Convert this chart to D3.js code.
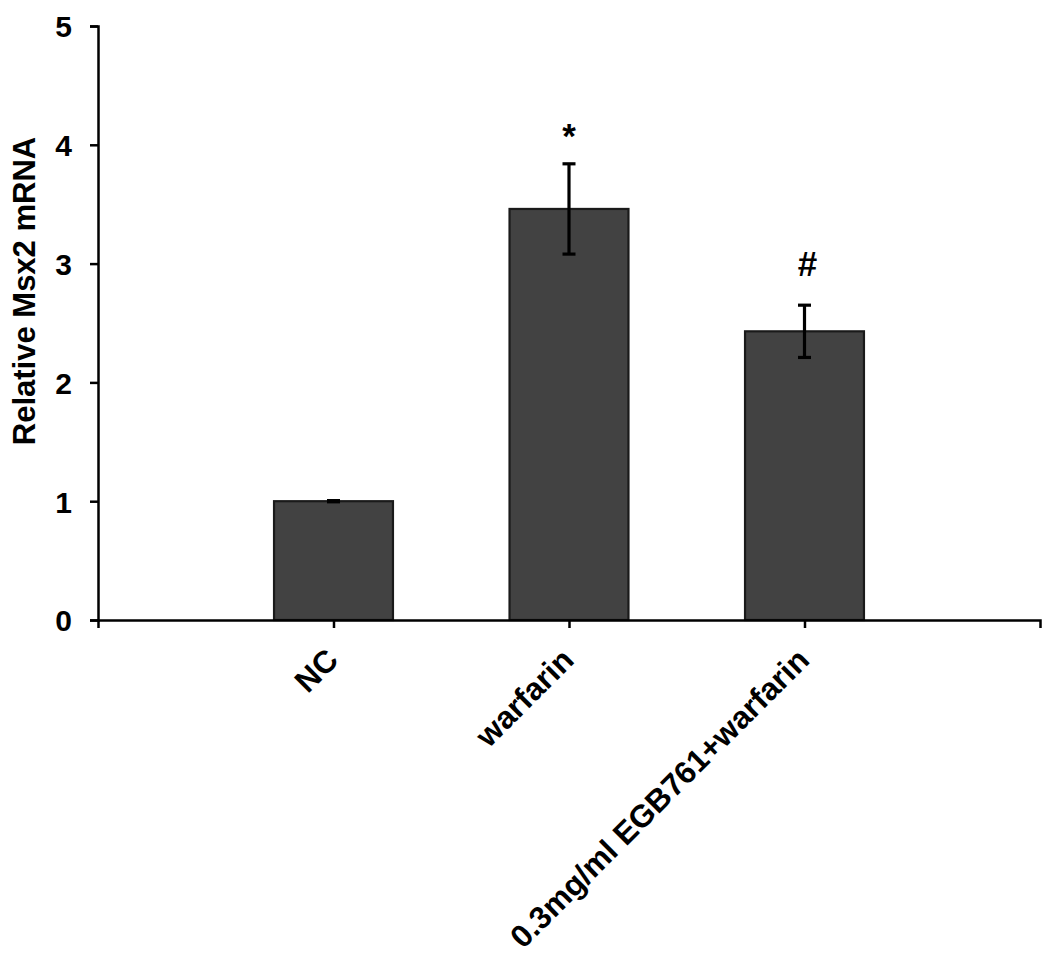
<!DOCTYPE html>
<html>
<head>
<meta charset="utf-8">
<script src="https://cdn.jsdelivr.net/npm/d3@7"></script>
<style>
  html, body { margin: 0; padding: 0; background: #fff; }
  svg { display: block; }
  text { font-family: "Liberation Sans", Arial, Helvetica, sans-serif; font-weight: bold; fill: #000; }
</style>
</head>
<body>
<svg id="chart" width="1050" height="954"></svg>
<script>
const categories = ["NC", "warfarin", "0.3mg/ml EGB761+warfarin"];
const means = [1.0, 3.46, 2.43];
const errors = [0.005, 0.38, 0.22];
const significance = ["", "*", "#"];
const yTicks = [0, 1, 2, 3, 4, 5];
const yLabel = "Relative Msx2 mRNA";

const svg = d3.select("#chart");
const plotLeft = 98, plotRight = 1040, plotTop = 26, plotBottom = 620;

const x = d3.scalePoint().domain(categories).range([plotLeft, plotRight]).padding(1);
const y = d3.scaleLinear().domain([0, 5]).range([plotBottom, plotTop]);
const barW = x.step() * 0.505;

// bars
svg.append("g").selectAll("rect")
  .data(categories)
  .join("rect")
  .attr("x", (d) => x(d) - barW / 2)
  .attr("y", (d, i) => y(means[i]))
  .attr("width", barW)
  .attr("height", (d, i) => y(0) - y(means[i]))
  .attr("fill", "#424242")
  .attr("stroke", "#1a1a1a")
  .attr("stroke-width", 2.2);

// error bars
const eb = svg.append("g").attr("stroke", "#000").attr("stroke-width", 3.2);
categories.forEach((c, i) => {
  const cx = x(c), y1 = y(means[i] + errors[i]), y2 = y(means[i] - errors[i]);
  eb.append("line").attr("x1", cx).attr("x2", cx).attr("y1", y1).attr("y2", y2);
  eb.append("line").attr("x1", cx - 6.5).attr("x2", cx + 6.5).attr("y1", y1).attr("y2", y1);
  eb.append("line").attr("x1", cx - 6.5).attr("x2", cx + 6.5).attr("y1", y2).attr("y2", y2);
});

// significance marks
svg.append("g").selectAll("text")
  .data(categories)
  .join("text")
  .attr("x", (d, i) => x(d) + (significance[i] === "#" ? 3 : 0))
  .attr("y", (d, i) => y(means[i] + errors[i]) - (significance[i] === "*" ? 16 : 29))
  .attr("text-anchor", "middle")
  .style("font-size", (d, i) => significance[i] === "*" ? "35px" : "35px")
  .text((d, i) => significance[i]);

// y axis
const yAxis = svg.append("g")
  .attr("transform", `translate(${plotLeft},0)`)
  .call(d3.axisLeft(y).tickValues(yTicks).tickFormat(d3.format("d")).tickSize(8).tickSizeOuter(8).tickPadding(18));
yAxis.selectAll("path, line").attr("stroke", "#000").attr("stroke-width", 2.5);
yAxis.selectAll("text").style("font-size", "30px").attr("font-family", null).attr("dy", "0.36em");

// x axis
const xAxis = svg.append("g")
  .attr("transform", `translate(0,${plotBottom})`)
  .call(d3.axisBottom(x).tickSize(8).tickSizeOuter(8));
xAxis.selectAll("path, line").attr("stroke", "#000").attr("stroke-width", 2.5);
xAxis.selectAll("text")
  .attr("font-family", null)
  .style("font-size", "31.5px")
  .attr("x", 0).attr("y", 0).attr("dy", 0)
  .attr("text-anchor", "end")
  .attr("transform", "translate(6,42) rotate(-45)");

// y label
svg.append("text")
  .attr("transform", `translate(35,${(135 + 447) / 2}) rotate(-90)`)
  .attr("text-anchor", "middle")
  .style("font-size", "31px")
  .text(yLabel);
</script>
</body>
</html>
